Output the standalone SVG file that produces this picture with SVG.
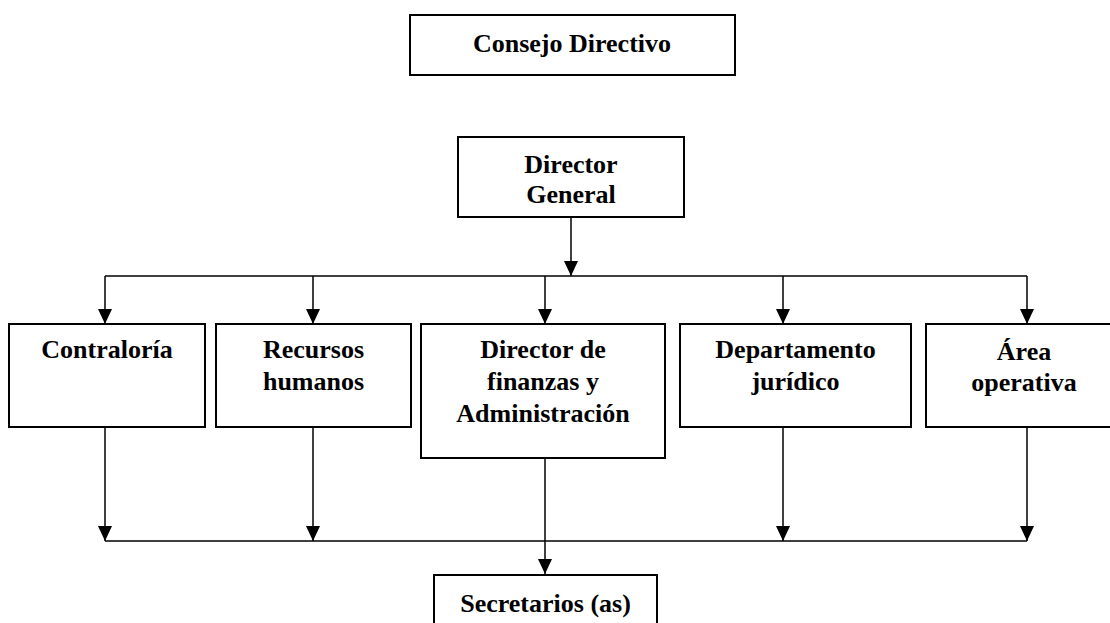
<svg xmlns="http://www.w3.org/2000/svg" width="1110" height="623" viewBox="0 0 1110 623">
<defs>
<style>
.box{fill:#fff;stroke:#000;stroke-width:2}
.t{font-family:"Liberation Serif","Times New Roman",serif;font-weight:bold;font-size:26px;text-anchor:middle;fill:#000}
.c{stroke:#000;stroke-width:1.5;fill:none}
.a{stroke:#000;stroke-width:1.5;fill:none;marker-end:url(#arr)}
</style>
<marker id="arr" markerUnits="userSpaceOnUse" markerWidth="15" markerHeight="14" refX="15" refY="7" orient="auto">
<path d="M0,0 L15,7 L0,14 z" fill="#000"/>
</marker>
</defs>
<rect width="1110" height="623" fill="#fff"/>
<g id="connectors">
<path class="a" d="M571,217 V276"/>
<path class="c" d="M105,276 H1027"/>
<path class="a" d="M105,276 V324"/>
<path class="a" d="M313,276 V324"/>
<path class="a" d="M545,276 V324"/>
<path class="a" d="M783,276 V324"/>
<path class="a" d="M1027,276 V324"/>
<path class="a" d="M105,427 V541"/>
<path class="a" d="M313,427 V541"/>
<path class="a" d="M783,427 V541"/>
<path class="a" d="M1027,427 V541"/>
<path class="c" d="M105,541 H1027"/>
<path class="a" d="M545,458 V574"/>
</g>
<g id="consejo">
<rect class="box" x="410" y="15" width="325" height="60"/>
<text class="t" x="572" y="52">Consejo Directivo</text>
</g>
<g id="director-general">
<rect class="box" x="458" y="137" width="226" height="80"/>
<text class="t" x="571" y="173">Director</text>
<text class="t" x="571" y="203">General</text>
</g>
<g id="contraloria">
<rect class="box" x="9" y="324" width="196" height="103"/>
<text class="t" x="107" y="358">Contraloría</text>
</g>
<g id="recursos">
<rect class="box" x="216" y="324" width="195" height="103"/>
<text class="t" x="313.5" y="358">Recursos</text>
<text class="t" x="313.5" y="390">humanos</text>
</g>
<g id="finanzas">
<rect class="box" x="421" y="324" width="244" height="134"/>
<text class="t" x="543" y="358">Director de</text>
<text class="t" x="543" y="390">finanzas y</text>
<text class="t" x="543" y="422">Administración</text>
</g>
<g id="juridico">
<rect class="box" x="680" y="324" width="231" height="103"/>
<text class="t" x="795.5" y="358">Departamento</text>
<text class="t" x="795.5" y="390">jurídico</text>
</g>
<g id="operativa">
<rect class="box" x="926" y="324" width="196" height="103"/>
<text class="t" x="1024" y="360">Área</text>
<text class="t" x="1024" y="391">operativa</text>
</g>
<g id="secretarios">
<rect class="box" x="434" y="575" width="223" height="60"/>
<text class="t" x="545.5" y="612">Secretarios (as)</text>
</g>
</svg>
